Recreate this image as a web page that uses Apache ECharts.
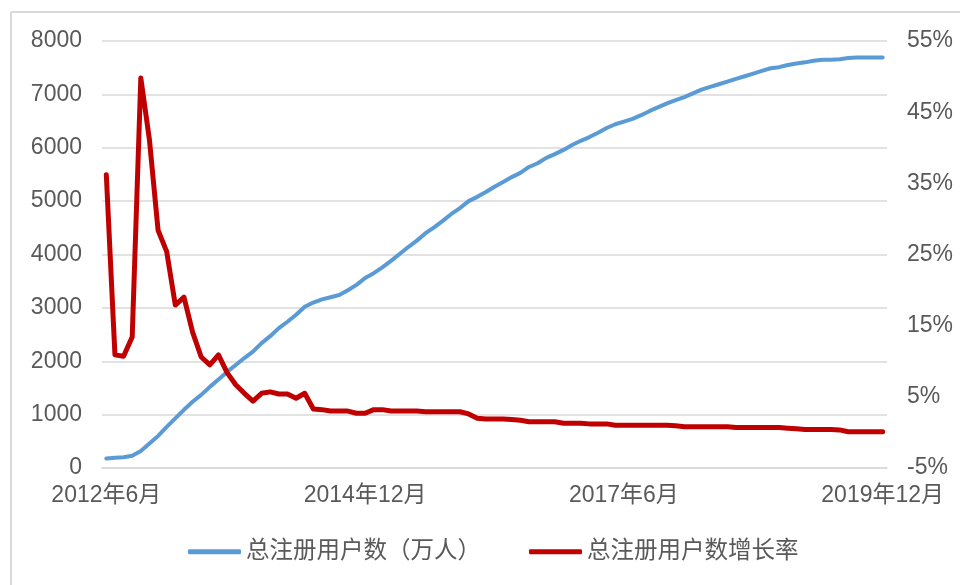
<!DOCTYPE html>
<html>
<head>
<meta charset="utf-8">
<script src="https://cdn.jsdelivr.net/npm/echarts@6/dist/echarts.min.js"></script>
<style>
html,body{margin:0;padding:0;background:#fff;}
#chart{width:960px;height:585px;}
</style>
</head>
<body>
<div id="chart"></div>
<script>
// Months 2012-06 .. 2019-12
var categories = [];
for (var y = 2012; y <= 2019; y++) {
  for (var m = 1; m <= 12; m++) {
    if (y === 2012 && m < 6) continue;
    categories.push(y + '年' + m + '月');
  }
}

var seriesNames = ['总注册用户数（万人）', '总注册用户数增长率'];

// Total registered users (10k)
var totalUsers = [
  180, 190, 200, 230, 320, 460, 600, 770, 930, 1090,
  1240, 1370, 1520, 1660, 1800, 1930, 2060, 2180, 2340, 2470,
  2620, 2740, 2870, 3020, 3100, 3160, 3200,
  3240, 3330, 3430, 3560, 3650, 3760, 3880, 4010, 4140, 4260,
  4400, 4510, 4630, 4760, 4870, 5000, 5080, 5170, 5270, 5360,
  5450, 5530, 5640, 5710, 5810, 5880, 5960, 6050, 6130, 6200,
  6280, 6370, 6440, 6490,
  6540, 6610, 6690, 6760, 6830, 6890, 6950, 7020, 7090, 7140,
  7190, 7240, 7290, 7340, 7390, 7440, 7490, 7510, 7550, 7580,
  7600, 7630, 7650, 7650, 7660, 7680, 7690, 7690, 7690, 7690
];

// Growth rate (%)
var growthRate = [
  36.2, 10.9, 10.7, 13.4, 49.8, 41.1, 28.4, 25.4, 17.9, 19.0,
  14.1, 10.6, 9.5, 10.9, 8.4, 6.7, 5.5, 4.4, 5.5, 5.7,
  5.4, 5.4, 4.8, 5.5, 3.3, 3.2, 3.0,
  3.0, 3.0, 2.7, 2.7, 3.2, 3.2, 3.0, 3.0, 3.0, 3.0,
  2.9, 2.9, 2.9, 2.9, 2.9, 2.6, 2.0, 1.9, 1.9, 1.9,
  1.8, 1.7, 1.5, 1.5, 1.5, 1.5, 1.3, 1.3, 1.3, 1.2,
  1.2, 1.2, 1.0, 1.0,
  1.0, 1.0, 1.0, 1.0, 1.0, 0.95, 0.8, 0.8, 0.8, 0.8,
  0.8, 0.8, 0.7, 0.7, 0.7, 0.7, 0.7, 0.7, 0.6, 0.5,
  0.4, 0.4, 0.4, 0.4, 0.35, 0.1, 0.1, 0.1, 0.1, 0.1
];

var FONT = "'Liberation Sans', 'Noto Sans CJK SC', sans-serif";
var TXT = '#595959';
var GRID = '#d9d9d9';
var FS = 23;

var chart = echarts.init(document.getElementById('chart'), null, {renderer: 'canvas'});
chart.setOption({
  animation: false,
  backgroundColor: '#fff',
  textStyle: {fontFamily: FONT},
  graphic: [
    {type: 'line', shape: {x1: 11, y1: 12, x2: 960, y2: 12}, style: {stroke: GRID, lineWidth: 2}},
    {type: 'line', shape: {x1: 11, y1: 12, x2: 11, y2: 585}, style: {stroke: GRID, lineWidth: 2}}
  ],
  grid: {left: 102, right: 73, top: 41, bottom: 117, containLabel: false},
  legend: {
    data: seriesNames,
    left: 183,
    top: 535,
    icon: 'roundRect',
    itemWidth: 53,
    itemHeight: 5,
    itemGap: 48,
    textStyle: {fontFamily: FONT, fontSize: 23.5, color: TXT}
  },
  xAxis: {
    type: 'category',
    data: categories,
    boundaryGap: true,
    axisLine: {lineStyle: {color: GRID, width: 1.5}},
    axisTick: {show: false},
    axisLabel: {interval: 29, color: TXT, fontSize: FS, fontFamily: FONT, margin: 16}
  },
  yAxis: [
    {
      type: 'value', min: 0, max: 8000, interval: 1000,
      axisLine: {show: false}, axisTick: {show: false},
      axisLabel: {color: TXT, fontSize: FS, fontFamily: FONT, margin: 20,
        formatter: function (v) { return String(v); }},
      splitLine: {lineStyle: {color: GRID, width: 1.5}}
    },
    {
      type: 'value', min: -5, max: 55, interval: 10, position: 'right',
      axisLine: {show: false}, axisTick: {show: false},
      axisLabel: {color: TXT, fontSize: FS, fontFamily: FONT, margin: 20, formatter: '{value}%'},
      splitLine: {show: false}
    }
  ],
  series: [
    {
      name: seriesNames[0], type: 'line', yAxisIndex: 0, data: totalUsers,
      symbol: 'none', itemStyle: {color: '#5B9BD5'},
      lineStyle: {color: '#5B9BD5', width: 4, cap: 'round', join: 'round'}
    },
    {
      name: seriesNames[1], type: 'line', yAxisIndex: 1, data: growthRate,
      symbol: 'none', itemStyle: {color: '#C00000'},
      lineStyle: {color: '#C00000', width: 5, cap: 'round', join: 'round'}
    }
  ]
});
</script>
</body>
</html>
